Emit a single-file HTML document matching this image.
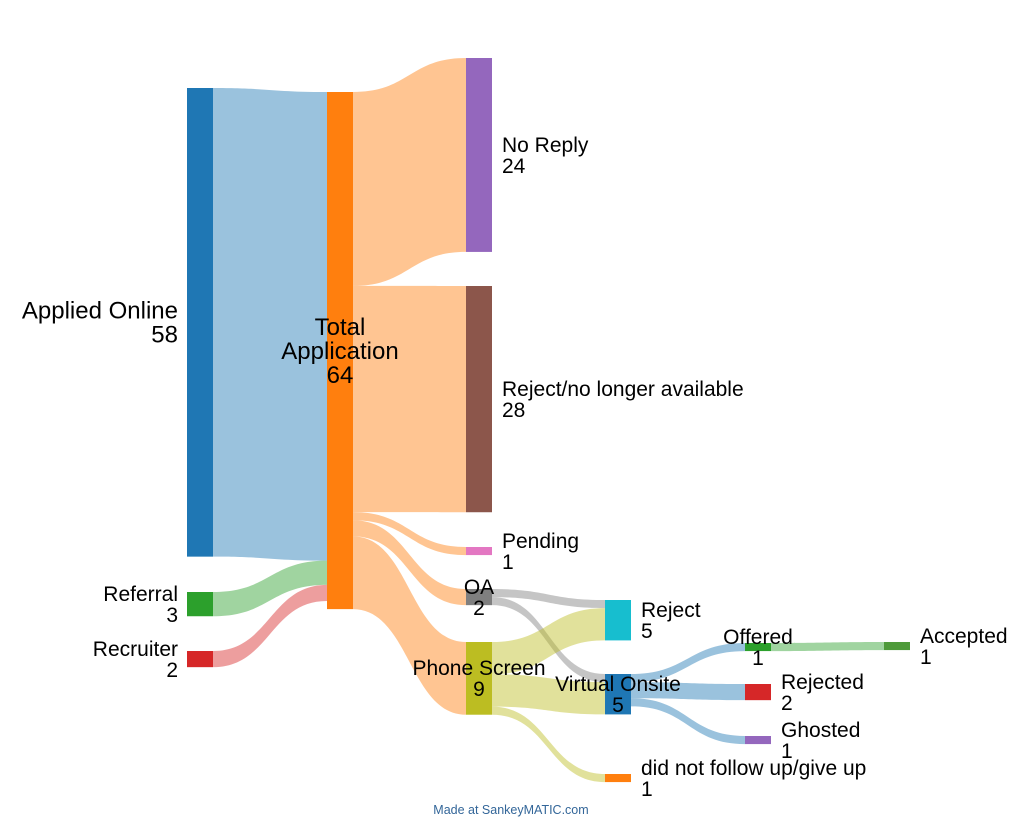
<!DOCTYPE html>
<html><head><meta charset="utf-8">
<style>
body{margin:0;background:#fff;width:1024px;height:819px;overflow:hidden;font-family:"Liberation Sans",Arial,sans-serif;}
svg text{font-family:"Liberation Sans",Arial,sans-serif;}
</style></head>
<body>
<svg id="chart" width="1024" height="819" viewBox="0 0 1024 819" xmlns="http://www.w3.org/2000/svg">
<g id="links"></g>
<g id="nodes"></g>
<g id="labels"></g>
<text x="511" y="814" text-anchor="middle" font-size="12.5" fill="#336699">Made at SankeyMATIC.com</text>
</svg>
<script>
const nodeNames = ["Applied Online","Referral","Recruiter","Total Application","No Reply","Reject/no longer available","Pending","OA","Phone Screen","Reject","Virtual Onsite","did not follow up/give up","Offered","Rejected","Ghosted","Accepted"];
const nodeValues = [58,3,2,64,24,28,1,2,9,5,5,1,1,2,1,1];
const linkSources = [0,1,2,3,3,3,3,3,7,7,8,8,8,10,10,10,12];
const linkTargets = [3,3,3,4,5,6,7,8,9,10,9,10,11,12,13,14,15];
const linkValues  = [58,3,2,24,28,1,2,9,1,1,4,4,1,1,2,1,1];

// layout (not data)
const nodeColors = ["#1f77b4","#2ca02c","#d62728","#ff7f0e","#9467bd","#8c564b","#e377c2","#7f7f7f","#bcbd22","#17becf","#1f77b4","#ff7f0e","#2ca02c","#d62728","#9467bd","#4e9a3a"];
const nodeX = [187,187,187,327,466,466,466,466,466,605,605,605,745,745,745,884];
const nodeY = [88,592,651,92,58,286,547,589,642,600,674,774,643,684,736,642];
const labelMode = ["left","left","left","center","right","right","right","center","center","right","center","right","center","right","right","right"];
const bigLabel = [true,false,false,true,false,false,false,false,false,false,false,false,false,false,false,false];
const NW = 26, K = 8.08;
const ns = "http://www.w3.org/2000/svg";
const gL = document.getElementById('links'), gN = document.getElementById('nodes'), gT = document.getElementById('labels');
const outOff = nodeNames.map(()=>0), inOff = nodeNames.map(()=>0);
function slug(s){return s.toLowerCase().replace(/[^a-z0-9]+/g,'-').replace(/^-|-$/g,'');}
for(let i=0;i<linkValues.length;i++){
  const s=linkSources[i], t=linkTargets[i], h=linkValues[i]*K;
  const x0=nodeX[s]+NW, x1=nodeX[t];
  const y0=nodeY[s]+outOff[s], y1=nodeY[t]+inOff[t];
  outOff[s]+=h; inOff[t]+=h;
  const xm=(x0+x1)/2;
  const d=`M${x0},${y0} C${xm},${y0} ${xm},${y1} ${x1},${y1} L${x1},${y1+h} C${xm},${y1+h} ${xm},${y0+h} ${x0},${y0+h} Z`;
  const p=document.createElementNS(ns,'path');
  p.setAttribute('d',d);p.setAttribute('fill',nodeColors[s]);p.setAttribute('fill-opacity','0.45');
  
  
  gL.appendChild(p);
}
for(let i=0;i<nodeNames.length;i++){
  const h=nodeValues[i]*K;
  const r=document.createElementNS(ns,'rect');
  r.setAttribute('x',nodeX[i]);r.setAttribute('y',nodeY[i]);r.setAttribute('width',NW);r.setAttribute('height',h);
  r.setAttribute('fill',nodeColors[i]);
  
  
  gN.appendChild(r);
  const fs=bigLabel[i]?24:21, lh=bigLabel[i]?24:21;
  let lines=[nodeNames[i],String(nodeValues[i])];
  if(nodeNames[i]==="Total Application") lines=["Total","Application","64"];
  const cy=nodeY[i]+h/2;
  let x, anchor;
  if(labelMode[i]==="left"){x=nodeX[i]-9;anchor="end";}
  else if(labelMode[i]==="right"){x=nodeX[i]+NW+10;anchor="start";}
  else {x=nodeX[i]+NW/2;anchor="middle";}
  const tx=document.createElementNS(ns,'text');
  tx.setAttribute('text-anchor',anchor);tx.setAttribute('font-size',fs);tx.setAttribute('fill','#000');
  
  
  const y0=cy-(lines.length-1)*lh/2+fs*0.35;
  lines.forEach((l,j)=>{const ts=document.createElementNS(ns,'tspan');ts.setAttribute('x',x);ts.setAttribute('y',y0+j*lh);ts.textContent=l;tx.appendChild(ts);});
  gT.appendChild(tx);
}
</script>
</body></html>
